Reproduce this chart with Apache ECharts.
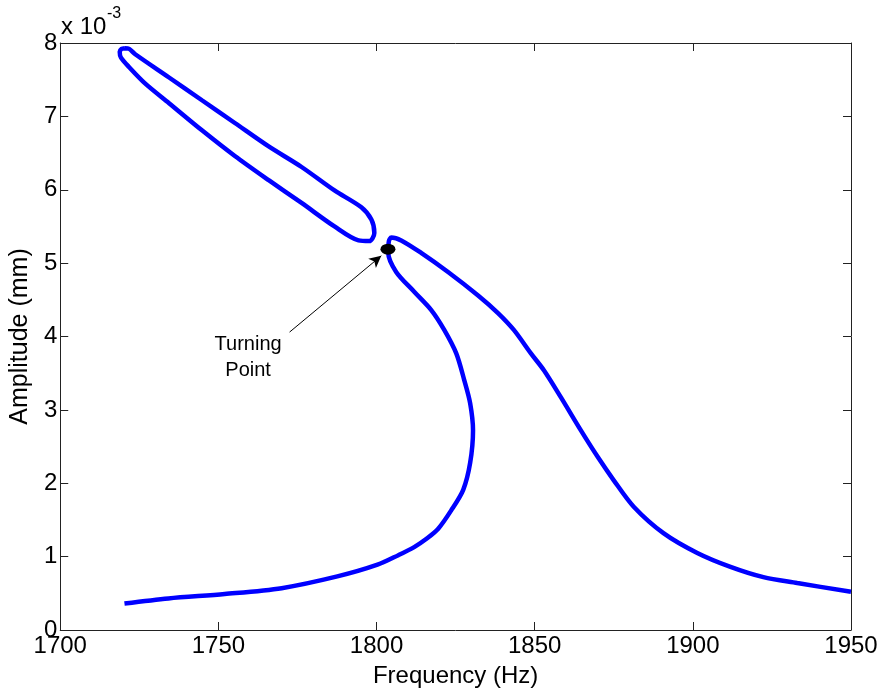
<!DOCTYPE html>
<html>
<head>
<meta charset="utf-8">
<script src="https://cdn.jsdelivr.net/npm/echarts@6/dist/echarts.min.js"></script>
<style>
  html, body { margin: 0; padding: 0; background: #fff; }
  #main { width: 885px; height: 697px; }
</style>
</head>
<body>
<div id="main"></div>
<script>
// amplitude values are in units of 1e-3 mm
var loopBranch = [
  [1720.4, 7.93], [1721.8, 7.92], [1723.6, 7.85], [1734.4, 7.53], [1744.8, 7.22],
  [1755.2, 6.91], [1765.9, 6.59], [1776.3, 6.31], [1786.7, 5.99], [1795.2, 5.76],
  [1798.4, 5.59], [1799.3, 5.41], [1797.7, 5.30], [1794.3, 5.31], [1786.7, 5.50],
  [1776.3, 5.82], [1765.9, 6.13], [1755.2, 6.46], [1744.8, 6.81], [1734.4, 7.18],
  [1726.8, 7.45], [1721.8, 7.67], [1719.2, 7.80], [1718.8, 7.88], [1719.4, 7.92],
  [1720.4, 7.93]
];
var mainBranch = [
  [1720.3, 0.36], [1734.2, 0.43], [1752.0, 0.49], [1770.0, 0.57], [1787.6, 0.73],
  [1800.3, 0.89], [1806.9, 1.02], [1811.9, 1.13], [1816.0, 1.25], [1819.5, 1.38],
  [1823.6, 1.63], [1827.4, 1.91], [1829.6, 2.28], [1830.5, 2.72], [1829.6, 3.09],
  [1827.7, 3.41], [1825.2, 3.77], [1821.4, 4.09], [1817.3, 4.36], [1811.9, 4.61],
  [1806.2, 4.88], [1803.7, 5.14], [1803.9, 5.30], [1804.7, 5.35], [1807.8, 5.31],
  [1814.1, 5.14], [1822.6, 4.88], [1832.1, 4.56], [1838.4, 4.32], [1843.4, 4.09],
  [1848.8, 3.77], [1852.9, 3.54], [1858.3, 3.17], [1864.6, 2.72], [1869.9, 2.36],
  [1875.0, 2.04], [1881.3, 1.68], [1890.7, 1.32], [1901.4, 1.05], [1911.9, 0.86],
  [1922.3, 0.72], [1933.0, 0.64], [1950.0, 0.52]
];
var turningPoint = [1803.6, 5.19];
var arrowFrom = [1772.5, 4.06];
var arrowTo = [1801.5, 5.10];
var labelPos = [1759.4, 3.72];
var xTicks = [1700, 1950, 50];
var yTicks = [0, 8, 1];

var myChart = echarts.init(document.getElementById('main'));
var font = 'Liberation Sans, Arial, sans-serif';

option = {
    animation: false,
    backgroundColor: '#fff',
    grid: {
        left: 58,
        right: 34,
        top: 43,
        bottom: 67
    },
    graphic: [
        { type: 'text', left: 61, top: 15, style: { text: 'x 10', font: '24px ' + font, fill: '#000' } },
        { type: 'text', left: 107, top: 6, style: { text: '-3', font: '16px ' + font, fill: '#000' } }
    ],
    xAxis: [
        {
            type: 'value',
            min: xTicks[0],
            max: xTicks[1],
            interval: xTicks[2],
            name: 'Frequency (Hz)',
            nameLocation: 'middle',
            nameGap: 34,
            nameTextStyle: { fontSize: 24, fontFamily: font, color: '#000' },
            axisLine: { onZero: false, lineStyle: { color: '#222', width: 1 } },
            axisTick: { inside: true, length: 8, lineStyle: { color: '#222' } },
            axisLabel: {
                fontSize: 24, fontFamily: font, color: '#000', margin: 4,
                formatter: function (v) { return String(v); }
            },
            splitLine: { show: false }
        },
        {
            type: 'value',
            position: 'top',
            min: xTicks[0],
            max: xTicks[1],
            interval: xTicks[2],
            axisLine: { onZero: false, lineStyle: { color: '#222', width: 1 } },
            axisTick: { inside: true, length: 8, lineStyle: { color: '#222' } },
            axisLabel: { show: false },
            splitLine: { show: false }
        }
    ],
    yAxis: [
        {
            type: 'value',
            min: yTicks[0],
            max: yTicks[1],
            interval: yTicks[2],
            name: 'Amplitude (mm)',
            nameLocation: 'middle',
            nameGap: 24,
            nameTextStyle: { fontSize: 25, fontFamily: font, color: '#000' },
            axisLine: { show: true, onZero: false, lineStyle: { color: '#222', width: 1 } },
            axisTick: { show: true, inside: true, length: 8, lineStyle: { color: '#222' } },
            axisLabel: {
                fontSize: 24, fontFamily: font, color: '#000', margin: 3,
                formatter: function (v) { return String(v); }
            },
            splitLine: { show: false }
        },
        {
            type: 'value',
            position: 'right',
            min: yTicks[0],
            max: yTicks[1],
            interval: yTicks[2],
            axisLine: { show: true, onZero: false, lineStyle: { color: '#222', width: 1 } },
            axisTick: { show: true, inside: true, length: 8, lineStyle: { color: '#222' } },
            axisLabel: { show: false },
            splitLine: { show: false }
        }
    ],
    series: [
        {
            name: 'loop',
            type: 'line',
            data: loopBranch,
            symbol: 'none',
            smooth: 0.3,
            lineStyle: { color: '#0000ff', width: 4.5 }
        },
        {
            name: 'main',
            type: 'line',
            data: mainBranch,
            symbol: 'none',
            smooth: 0.3,
            lineStyle: { color: '#0000ff', width: 4.5 }
        },
        {
            name: 'turning',
            type: 'scatter',
            data: [turningPoint],
            symbol: 'circle',
            symbolSize: [15, 11],
            itemStyle: { color: '#000', opacity: 1 },
            z: 5,
            markLine: {
                silent: true,
                symbol: ['none', 'arrow'],
                symbolSize: [9, 12],
                lineStyle: { color: '#000', width: 1, type: 'solid' },
                label: { show: false },
                data: [[{ coord: arrowFrom }, { coord: arrowTo }]]
            },
            markPoint: {
                silent: true,
                symbol: 'circle',
                symbolSize: 2,
                itemStyle: { color: 'rgba(0,0,0,0)' },
                label: {
                    show: true,
                    position: 'inside',
                    formatter: 'Turning\nPoint',
                    fontSize: 20,
                    lineHeight: 26,
                    fontFamily: font,
                    color: '#000',
                    align: 'center'
                },
                data: [{ coord: labelPos }]
            }
        }
    ]
};

myChart.setOption(option);
</script>
</body>
</html>
